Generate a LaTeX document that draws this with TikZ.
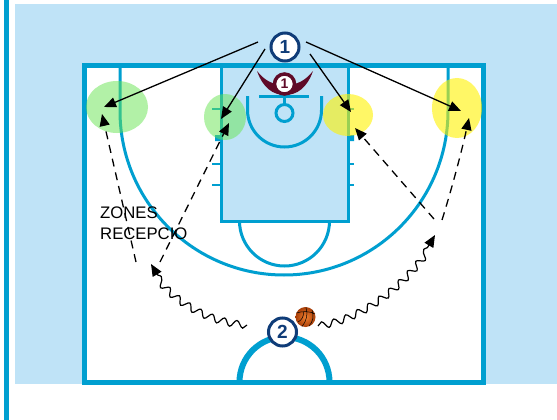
\documentclass[tikz,border=0pt]{standalone}
\usepackage{fontspec}
\setmainfont{Liberation Sans}
\usetikzlibrary{arrows.meta,decorations.pathmorphing,shapes.geometric}
\definecolor{court}{HTML}{009FD0}
\definecolor{pale}{HTML}{BFE3F7}
\definecolor{navy}{HTML}{0F3C78}
\definecolor{maroon}{HTML}{5F0A28}
\definecolor{zgreen}{HTML}{66E550}
\definecolor{balla}{HTML}{F08030}
\definecolor{ballb}{HTML}{A83E08}
\tikzset{
  line/.style={draw=court,line width=3pt},
  tick/.style={draw=court,line width=2.5pt},
  zonegreen/.style={ellipse,fill=zgreen,fill opacity=.5,inner sep=0pt},
  zoneyellow/.style={ellipse,fill=yellow,fill opacity=.6,inner sep=0pt},
  player/.style={circle,draw=navy,fill=white,line width=3pt,minimum size=28pt,inner sep=0pt,text=navy,font=\fontsize{19}{19}\selectfont\bfseries},
  defender/.style={circle,draw=maroon,fill=white,line width=3.5pt,minimum size=20pt,inner sep=0pt,text=maroon,font=\fontsize{14}{14}\selectfont\bfseries},
  pass/.style={draw=black,line width=1.3pt,-{Triangle[length=12pt,width=10pt]}},
  run/.style={pass,dash pattern=on 8pt off 6pt},
  dribble/.style={draw=black,line width=1.2pt,-{Triangle[length=12pt,width=10pt]},decorate,decoration={snake,segment length=13pt,amplitude=3.5pt,post length=10pt}},
  zonelabel/.style={align=left,anchor=north west,inner sep=0pt,font=\fontsize{16.7}{21}\selectfont,text=black}
}
\begin{document}
\begin{tikzpicture}[x=1pt,y=-1pt]
\useasboundingbox (0,0) rectangle (557,420);
\fill[white] (0,0) rectangle (557,420);
\fill[pale] (15,4) rectangle (557,384);
\fill[court] (4,0) rectangle (9,420);
% court
\fill[white] (84.5,65.5) rectangle (483.5,382);
\fill[pale] (221,66) rectangle (348,221);
\draw[line] (120,66) -- (120,111) arc[start angle=180,end angle=0,radius=164] -- (448,66);
\draw[line] (221,66) -- (221,221) -- (348,221) -- (348,66);
\draw[line] (239.5,221) arc[start angle=180,end angle=0,radius=45];
\draw[tick] (212,109) -- (221,109) (212,164) -- (221,164) (212,185) -- (221,185);
\draw[tick] (348,109) -- (354,109) (348,164) -- (354,164) (348,185) -- (354,185);
\fill[court] (215,135) rectangle (221,141) (348,135) rectangle (354,141);
\draw[line] (247.5,96) -- (247.5,110) arc[start angle=180,end angle=0,radius=37] -- (321.5,96);
\draw[line] (259,96.5) -- (309,96.5);
\draw[line] (284.5,97) -- (284.5,104);
\draw[line] (284.5,113) circle[radius=8.5];
\draw[draw=court,line width=5pt] (84.5,65.5) rectangle (483.5,382);
\draw[draw=court,line width=6pt] (239.5,382) arc[start angle=180,end angle=360,radius=45];
% zones
\node[zonegreen,minimum width=62pt,minimum height=52pt] (zg1) at (117,107) {};
\node[zonegreen,minimum width=42pt,minimum height=46pt] (zg2) at (225,117) {};
\node[zoneyellow,minimum width=50pt,minimum height=42pt] (zy1) at (348,115) {};
\node[zoneyellow,minimum width=50pt,minimum height=60pt] (zy2) at (457,108) {};
% defender
\fill[maroon] (257,71) .. controls (263,88) and (273,95) .. (285,95) .. controls (297,95) and (307,88) .. (313,71)
  .. controls (305,81) and (297,85) .. (285,85) .. controls (273,85) and (265,81) .. (257,71) -- cycle;
\node[defender] (d1) at (284.5,84) {1};
% players
\node[player] (p1) at (285,47) {1};
\node[player] (p2) at (282.5,332) {2};
% ball
\node[circle,minimum size=20pt,inner sep=0pt,inner color=balla,outer color=ballb] (ball) at (305.5,317) {};
\draw[black,line width=.5pt] (296.5,313) .. controls (302,311) and (310,311) .. (315,314)
  (302,326.5) .. controls (307,320) and (308,314) .. (306,307.5)
  (298,322) .. controls (302,320) and (304,316) .. (303.5,311.5)
  (309,326) .. controls (313,322) and (314,316) .. (312,310);
% text
\node[zonelabel] (zl) at (100,206.5) {ZONES\\RECEPCIO};
% free ends
\coordinate (s1) at (258,42); \coordinate (e1) at (104,107);
\coordinate (s2) at (265,49); \coordinate (e2) at (221,119);
\coordinate (s3) at (310,54); \coordinate (e3) at (351,112);
\coordinate (s4) at (306,42); \coordinate (e4) at (461,111);
\coordinate (r1) at (136,262); \coordinate (t1) at (102,114);
\coordinate (r2) at (160,262); \coordinate (t2) at (229,123);
\coordinate (r3) at (434,219); \coordinate (t3) at (355,128);
\coordinate (r4) at (442,220); \coordinate (t4) at (469,118);
\coordinate (w1) at (247,325); \coordinate (v1) at (151,264);
\coordinate (w2) at (318,326); \coordinate (v2) at (435,235);
% connectors
\draw[pass] (s1) -- (e1);
\draw[pass] (s2) -- (e2);
\draw[pass] (s3) -- (e3);
\draw[pass] (s4) -- (e4);
\draw[run] (r1) -- (t1);
\draw[run] (r2) -- (t2);
\draw[run] (r3) -- (t3);
\draw[run] (r4) .. controls (452,188) and (462,150) .. (t4);
\draw[dribble] (w1) .. controls (210,322) and (170,300) .. (v1);
\draw[dribble] (w2) .. controls (365,318) and (410,280) .. (v2);
\end{tikzpicture}
\end{document}
